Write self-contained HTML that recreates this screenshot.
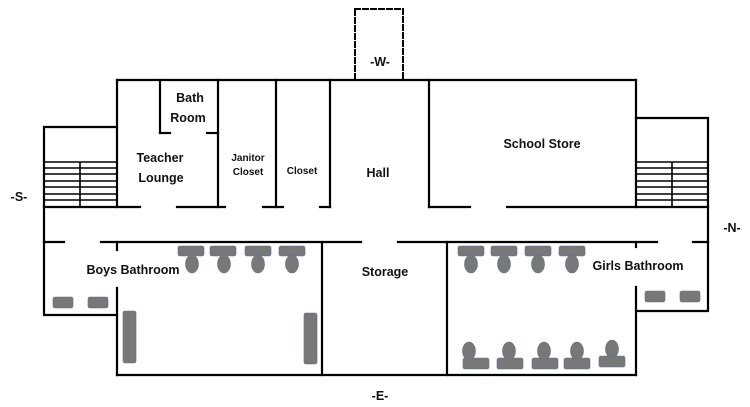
<!DOCTYPE html>
<html><head><meta charset="utf-8"><style>
html,body{margin:0;padding:0;background:#fff;width:750px;height:407px;overflow:hidden}
svg{display:block}
text{font-family:"Liberation Sans",sans-serif;font-weight:bold;fill:#111;text-anchor:middle}
</style></head><body>
<svg width="750" height="407" viewBox="0 0 750 407" xmlns="http://www.w3.org/2000/svg">
<g stroke="#000" stroke-width="2.2" fill="none" stroke-linecap="square">
<!-- dashed W box -->
<rect x="355" y="9" width="48" height="71" stroke-dasharray="5,3" stroke-width="2"/>
<!-- main top -->
<line x1="117" y1="80" x2="636" y2="80"/>
<!-- left building wall -->
<line x1="117" y1="80" x2="117" y2="207"/>
<!-- left stair box -->
<polyline points="117,127 44,127 44,315 117,315"/>
<!-- bath room -->
<line x1="160" y1="80" x2="160" y2="133"/>
<line x1="160" y1="133" x2="170" y2="133"/>
<line x1="207" y1="133" x2="218" y2="133"/>
<line x1="218" y1="80" x2="218" y2="207"/>
<line x1="276" y1="80" x2="276" y2="207"/>
<line x1="330" y1="80" x2="330" y2="207"/>
<line x1="429" y1="80" x2="429" y2="207"/>
<line x1="636" y1="80" x2="636" y2="207"/>
<!-- corridor top -->
<line x1="44" y1="207" x2="140" y2="207"/>
<line x1="177" y1="207" x2="225" y2="207"/>
<line x1="263" y1="207" x2="283" y2="207"/>
<line x1="320" y1="207" x2="330" y2="207"/>
<line x1="429" y1="207" x2="470" y2="207"/>
<line x1="507" y1="207" x2="708" y2="207"/>
<!-- right stair box -->
<polyline points="636,118 708,118 708,311 636,311"/>
<!-- corridor bottom -->
<line x1="44" y1="242" x2="64" y2="242"/>
<line x1="101" y1="242" x2="361" y2="242"/>
<line x1="398" y1="242" x2="657" y2="242"/>
<line x1="693" y1="242" x2="708" y2="242"/>
<!-- boys -->
<line x1="117" y1="242" x2="117" y2="250"/>
<line x1="117" y1="288" x2="117" y2="375"/>
<line x1="322" y1="242" x2="322" y2="375"/>
<line x1="447" y1="242" x2="447" y2="375"/>
<line x1="636" y1="242" x2="636" y2="247"/>
<line x1="636" y1="287" x2="636" y2="375"/>
<line x1="117" y1="375" x2="636" y2="375"/>
</g>
<g stroke="#000" stroke-width="1.6">
<line x1="44" y1="162" x2="117" y2="162"/><line x1="44" y1="168" x2="117" y2="168"/>
<line x1="44" y1="174" x2="117" y2="174"/><line x1="44" y1="181" x2="117" y2="181"/>
<line x1="44" y1="187" x2="117" y2="187"/><line x1="44" y1="194" x2="117" y2="194"/>
<line x1="44" y1="200" x2="117" y2="200"/>
<line x1="80" y1="162" x2="80" y2="207"/>
<line x1="636" y1="162" x2="708" y2="162"/><line x1="636" y1="168" x2="708" y2="168"/>
<line x1="636" y1="174" x2="708" y2="174"/><line x1="636" y1="181" x2="708" y2="181"/>
<line x1="636" y1="187" x2="708" y2="187"/><line x1="636" y1="194" x2="708" y2="194"/>
<line x1="636" y1="200" x2="708" y2="200"/>
<line x1="672" y1="162" x2="672" y2="207"/>
</g>
<g fill="#787878" stroke="#5a7090" stroke-width="0.6">
<!-- boys toilets -->
<rect x="178" y="246" width="26" height="10" rx="2"/><ellipse cx="192" cy="264" rx="6.5" ry="9"/>
<rect x="210" y="246" width="26" height="10" rx="2"/><ellipse cx="224" cy="264" rx="6.5" ry="9"/>
<rect x="245" y="246" width="26" height="10" rx="2"/><ellipse cx="258" cy="264" rx="6.5" ry="9"/>
<rect x="279" y="246" width="26" height="10" rx="2"/><ellipse cx="292" cy="264" rx="6.5" ry="9"/>
<rect x="53" y="297" width="20" height="11" rx="2"/><rect x="88" y="297" width="20" height="11" rx="2"/>
<rect x="123" y="311" width="13" height="52" rx="2"/><rect x="304" y="313" width="13" height="51" rx="2"/>
<!-- girls toilets -->
<rect x="458" y="246" width="26" height="10" rx="2"/><ellipse cx="471" cy="264" rx="6.5" ry="9"/>
<rect x="491" y="246" width="26" height="10" rx="2"/><ellipse cx="504" cy="264" rx="6.5" ry="9"/>
<rect x="525" y="246" width="26" height="10" rx="2"/><ellipse cx="538" cy="264" rx="6.5" ry="9"/>
<rect x="559" y="246" width="26" height="10" rx="2"/><ellipse cx="572" cy="264" rx="6.5" ry="9"/>
<rect x="645" y="291" width="20" height="11" rx="2"/><rect x="680" y="291" width="20" height="11" rx="2"/>
<ellipse cx="469" cy="351" rx="6.5" ry="9"/><rect x="463" y="358" width="26" height="11" rx="2"/>
<ellipse cx="509" cy="351" rx="6.5" ry="9"/><rect x="497" y="358" width="26" height="11" rx="2"/>
<ellipse cx="544" cy="351" rx="6.5" ry="9"/><rect x="532" y="358" width="26" height="11" rx="2"/>
<ellipse cx="577" cy="351" rx="6.5" ry="9"/><rect x="564" y="358" width="26" height="11" rx="2"/>
<ellipse cx="612" cy="349" rx="6.5" ry="9"/><rect x="599" y="356" width="26" height="11" rx="2"/>
</g>
<g font-size="12.5">
<text x="190" y="102">Bath</text>
<text x="188" y="122">Room</text>
<text x="160" y="162">Teacher</text>
<text x="161" y="182">Lounge</text>
<text x="302" y="174" font-size="10">Closet</text>
<text x="378" y="177">Hall</text>
<text x="542" y="148">School Store</text>
<text x="133" y="274">Boys Bathroom</text>
<text x="385" y="276">Storage</text>
<text x="638" y="270">Girls Bathroom</text>
<text x="380" y="66">-W-</text>
<text x="19" y="201">-S-</text>
<text x="732" y="232">-N-</text>
<text x="380" y="400">-E-</text>
</g>
<g font-size="10">
<text x="248" y="161">Janitor</text>
<text x="248" y="175">Closet</text>
</g>
</svg>
</body></html>
